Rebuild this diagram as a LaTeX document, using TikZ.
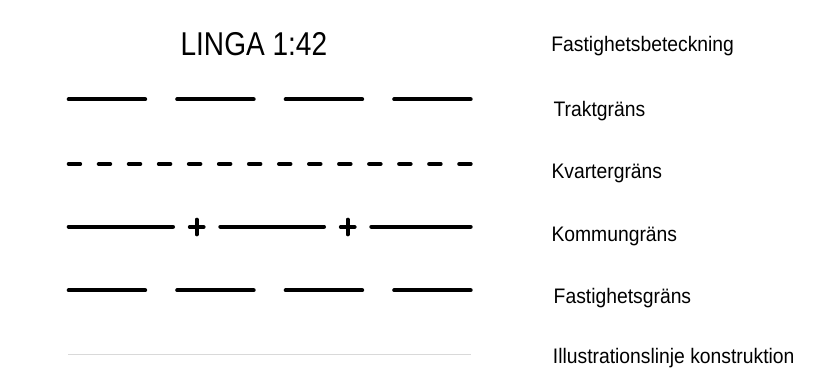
\documentclass[tikz,border=0pt]{standalone}
\usepackage{fontspec}
\setmainfont{Liberation Sans}[FakeStretch=0.92]
\newfontfamily\titlefont{Liberation Sans}[FakeStretch=0.85]
\usetikzlibrary{calc}

\begin{document}
\begin{tikzpicture}[
    x=1pt, y=-1pt,
    every node/.style={inner sep=0pt, outer sep=0pt},
    lbl/.style={anchor=base west, font=\fontsize{21}{25}\selectfont},
    titel/.style={anchor=base west, font=\titlefont\fontsize{33}{40}\selectfont},
    grans/.style={line width=4pt, line cap=round},
    lang/.style={grans, dash pattern=on 76.5pt off 32pt},
    kort/.style={grans, dash pattern=on 11.5pt off 18.54pt},
    hjalp/.style={line width=1.5pt, black!15}
]
    \useasboundingbox (0,0) rectangle (834,378);

    % rubrik och beskrivningar
    \node[titel] (linga) at (180.6,55.7) {LINGA 1:42};
    \node[lbl] (fbet) at (551.4,51.7) {Fastighetsbeteckning};
    \node[lbl] (trakt) at (553.6,116.7) {Traktgräns};
    \node[lbl] (kvarter) at (551.5,178.3) {Kvartergräns};
    \node[lbl] (kommun) at (551.5,241.7) {Kommungräns};
    \node[lbl] (fgrans) at (553.7,303.3) {Fastighetsgräns};
    \node[lbl] (illu) at (552.9,363.3) {Illustrationslinje konstruktion};

    % linjernas ändpunkter
    \coordinate (trakt-v) at (68.7,99.3);
    \coordinate (trakt-h) at (470.7,99.3);
    \coordinate (kvarter-v) at (68.7,164);
    \coordinate (kvarter-h) at (470.7,164);
    \coordinate (kommun-a) at (68.7,226.7);
    \coordinate (kommun-b) at (173,226.7);
    \coordinate (kommun-c) at (220.3,226.7);
    \coordinate (kommun-d) at (324,226.7);
    \coordinate (kommun-e) at (371.3,226.7);
    \coordinate (kommun-f) at (470.7,226.7);
    \coordinate (plus1) at (196.7,227);
    \coordinate (plus2) at (347.7,227);
    \coordinate (fgrans-v) at (68.7,290.3);
    \coordinate (fgrans-h) at (470.7,290.3);
    \coordinate (illu-v) at (68.3,354.3);
    \coordinate (illu-h) at (471,354.3);

    \draw[lang] (trakt-v) -- (trakt-h);
    \draw[kort] (kvarter-v) -- (kvarter-h);
    \draw[grans] (kommun-a) -- (kommun-b);
    \draw[grans] (kommun-c) -- (kommun-d);
    \draw[grans] (kommun-e) -- (kommun-f);
    \draw[grans] (plus1) +(-6.9,0) -- +(6.9,0) +(0,-7.35) -- +(0,7.35);
    \draw[grans] (plus2) +(-6.9,0) -- +(6.9,0) +(0,-7.35) -- +(0,7.35);
    \draw[lang] (fgrans-v) -- (fgrans-h);
    \draw[hjalp] (illu-v) -- (illu-h);
\end{tikzpicture}
\end{document}
